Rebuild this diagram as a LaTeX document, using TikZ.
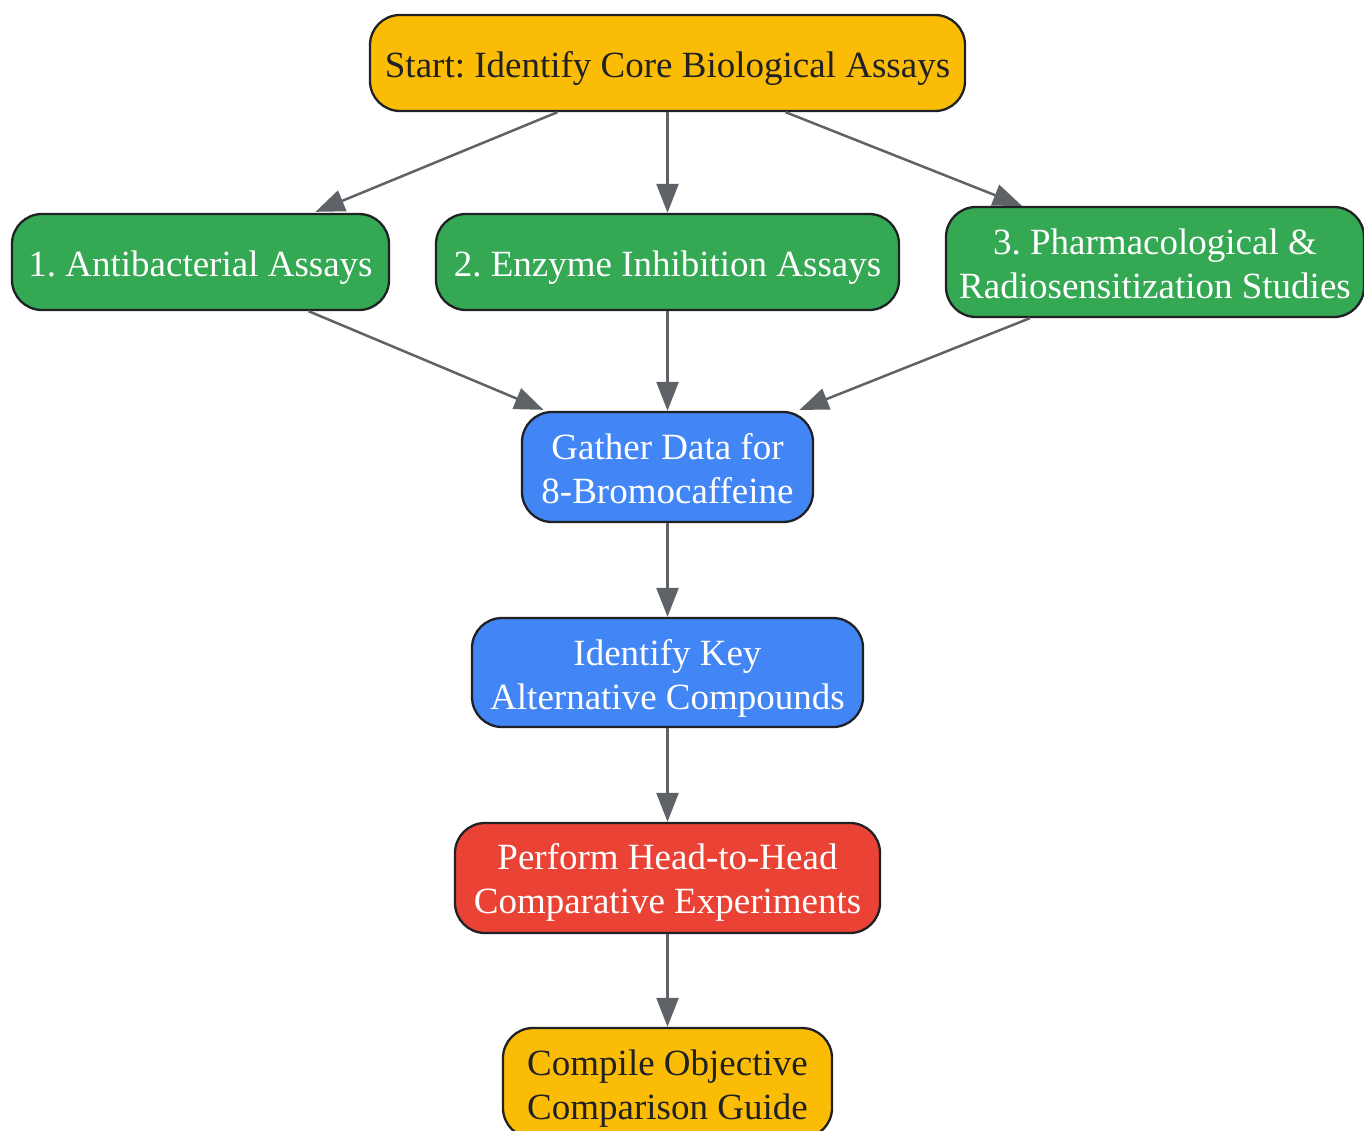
\documentclass[tikz,border=0pt]{standalone}
\usepackage{fontspec}
\setmainfont{Liberation Serif}
\usetikzlibrary{arrows.meta,calc}
\definecolor{gyellow}{HTML}{FBBC05}
\definecolor{ggreen}{HTML}{34A853}
\definecolor{gblue}{HTML}{4285F4}
\definecolor{gred}{HTML}{EA4335}
\definecolor{gdark}{HTML}{202124}
\definecolor{ggray}{HTML}{5F6368}
\newcommand\mystrut[1]{\rule{0pt}{#1pt}}
\tikzset{
  box/.style={draw=gdark, line width=2.3pt, rounded corners=30pt, align=center,
    font=\fontsize{37}{44}\selectfont\frenchspacing, inner sep=0pt},
  yelbox/.style={box, fill=gyellow, text=gdark},
  grnbox/.style={box, fill=ggreen, text=white},
  blubox/.style={box, fill=gblue, text=white},
  redbox/.style={box, fill=gred, text=white},
  edge/.style={draw=ggray, line width=2.5pt, -{Triangle[length=29pt,width=22pt]}}
}
\begin{document}
\begin{tikzpicture}[x=1pt,y=-1pt]
\useasboundingbox (0,0) rectangle (1364,1131);
\clip (0,0) rectangle (1364,1131);
\node[yelbox, minimum width=595pt, minimum height=96pt] (start) at (667.5,63) {\mystrut{36}Start: Identify Core Biological Assays};
\node[grnbox, minimum width=377pt, minimum height=96pt] (a1) at (200.5,262) {\mystrut{37}1. Antibacterial Assays};
\node[grnbox, minimum width=463pt, minimum height=96pt] (a2) at (667.5,262) {\mystrut{37}2. Enzyme Inhibition Assays};
\node[grnbox, minimum width=418pt, minimum height=110pt] (a3) at (1155,262) {\mystrut{29}3. Pharmacological \&\\Radiosensitization Studies};
\node[blubox, minimum width=291pt, minimum height=110pt] (gather) at (667.5,467) {\mystrut{29}Gather Data for\\8-Bromocaffeine};
\node[blubox, minimum width=391pt, minimum height=109pt] (ident) at (667.5,672.5) {\mystrut{37}Identify Key\\Alternative Compounds};
\node[redbox, minimum width=425pt, minimum height=110pt] (perform) at (667.5,878) {\mystrut{35}Perform Head-to-Head\\Comparative Experiments};
\node[yelbox, minimum width=329pt, minimum height=110pt] (compile) at (667.5,1083) {\mystrut{37}Compile Objective\\Comparison Guide};

\draw[edge] ($(start.south)+(-110,0)$) -- ($(a1.north)+(115,-1)$);
\draw[edge] (start.south) -- (a2.north);
\draw[edge] ($(start.south)+(118,0)$) -- ($(a3.north)+(-133,0)$);
\draw[edge] ($(a1.south)+(108,0)$) -- ($(gather.north)+(-124,-1)$);
\draw[edge] (a2.south) -- (gather.north);
\draw[edge] ($(a3.south)+(-125,0)$) -- ($(gather.north)+(132,-1)$);
\draw[edge] (gather.south) -- (ident.north);
\draw[edge] (ident.south) -- (perform.north);
\draw[edge] (perform.south) -- (compile.north);
\end{tikzpicture}
\end{document}
